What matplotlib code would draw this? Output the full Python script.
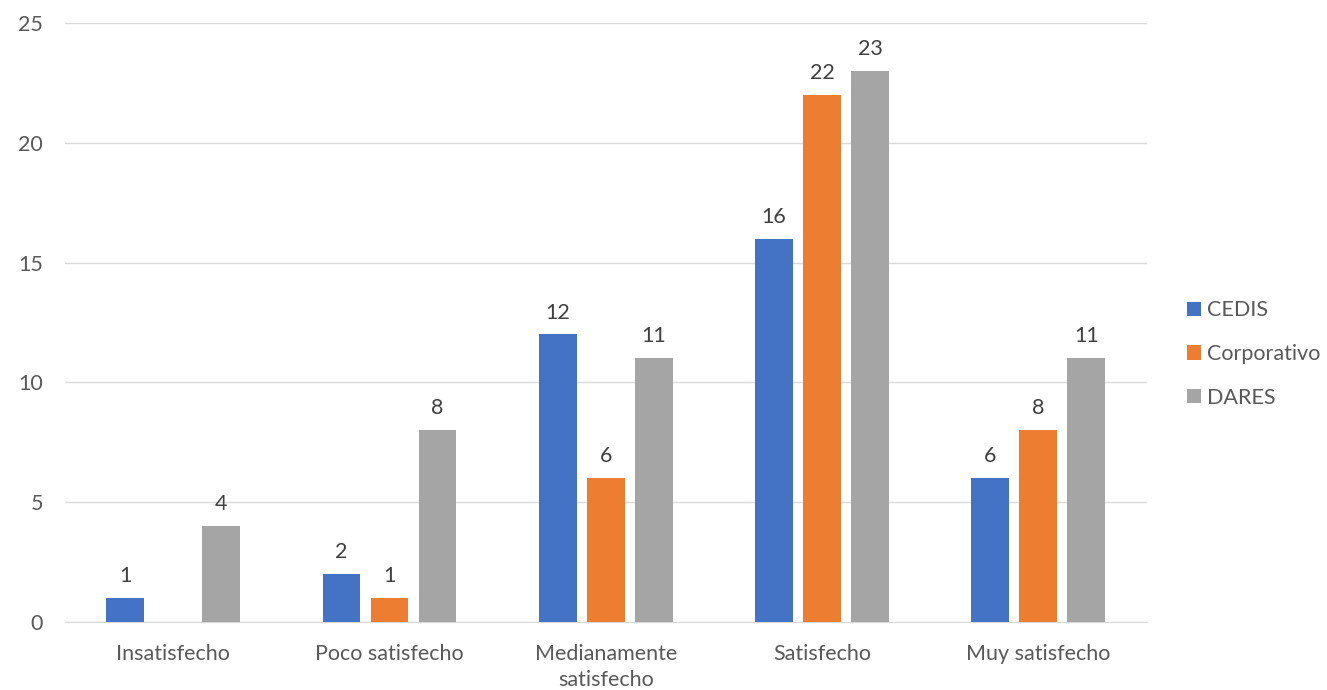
import matplotlib
matplotlib.use("Agg")
import matplotlib.pyplot as plt
import numpy as np

categories = ["Insatisfecho", "Poco satisfecho", "Medianamente\nsatisfecho", "Satisfecho", "Muy satisfecho"]
series_names = ["CEDIS", "Corporativo", "DARES"]
cedis = [1, 2, 12, 16, 6]
corporativo = [None, 1, 6, 22, 8]
dares = [4, 8, 11, 23, 11]
colors = ["#4472C4", "#ED7D31", "#A5A5A5"]
yticks = [0, 5, 10, 15, 20, 25]

plt.rcParams['font.family'] = ['Lato', 'DejaVu Sans']
FS = 15.5

fig = plt.figure(figsize=(13.27, 6.9), dpi=100)
ax = fig.add_axes([0.049, 0.0986, 0.815, 0.868])

x = np.arange(len(categories))
w = 0.175
off = 0.222
for i, (vals, name, c) in enumerate(zip([cedis, corporativo, dares], series_names, colors)):
    xs = x + (i - 1) * off
    hv = [v if v is not None else 0 for v in vals]
    ax.bar(xs, hv, width=w, color=c, label=name, zorder=3)
    for xi, v in zip(xs, vals):
        if v is not None and v != 0:
            ax.text(xi, v + 0.5, str(v), ha='center', va='bottom', fontsize=FS, color='#404040')

ax.set_xlim(-0.5, len(categories) - 0.5)
ax.set_ylim(0, 25)
ax.set_yticks(yticks)
ax.set_xticks(x)
ax.set_xticklabels(categories, fontsize=FS, color='#595959', linespacing=1.35)
ax.tick_params(axis='y', labelsize=FS, colors='#595959', length=0, pad=16)
ax.tick_params(axis='x', length=0, pad=16)
ax.grid(axis='y', color='#D9D9D9', linewidth=1, zorder=0)
for s in ['top', 'right', 'left']:
    ax.spines[s].set_visible(False)
ax.spines['bottom'].set_color('#D9D9D9')

leg = fig.legend(loc='center left', bbox_to_anchor=(0.88, 0.487), frameon=False,
                 fontsize=FS, handlelength=0.65, handleheight=0.65, handletextpad=0.25,
                 labelspacing=1.1)
for t in leg.get_texts():
    t.set_color('#595959')

fig.savefig("out.png", dpi=100)
